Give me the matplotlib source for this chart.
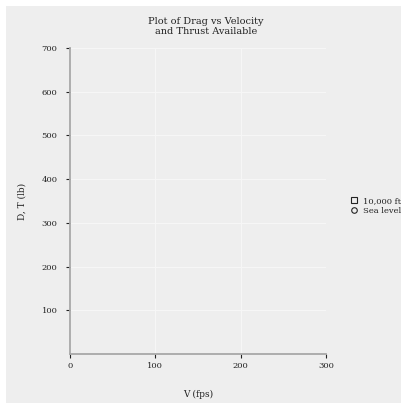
import matplotlib.pyplot as plt
from matplotlib.patches import Rectangle
from matplotlib.lines import Line2D

# series (no points are shown in the chart)
series_names = ["10,000 ft", "Sea level"]
series_markers = ["s", "o"]
velocity_10k = []
drag_10k = []
velocity_sl = []
drag_sl = []

x_ticks = [0, 100, 200, 300]
y_ticks = [100, 200, 300, 400, 500, 600, 700]

plt.rcParams['font.family'] = ['DejaVu Serif']
text_col = '#222222'
bg = '#eeeeee'

fig = plt.figure(figsize=(4.01, 4.03), dpi=100, facecolor='white')
fig.patches.append(Rectangle((6 / 401, 0), 1, 1 - 6 / 403, transform=fig.transFigure,
                             facecolor=bg, edgecolor='none', zorder=-10))

ax = fig.add_axes([70 / 401, 1 - 354 / 403, 256 / 401, 306 / 403])
ax.set_facecolor(bg)

ax.plot(velocity_10k, drag_10k, linestyle='none', marker=series_markers[0],
        mfc='none', mec=text_col, label=series_names[0])
ax.plot(velocity_sl, drag_sl, linestyle='none', marker=series_markers[1],
        mfc='none', mec=text_col, label=series_names[1])

ax.set_xlim(0, 300)
ax.set_ylim(0, 700)
ax.set_xticks(x_ticks)
ax.set_yticks(y_ticks)
ax.grid(True, color='#f6f6f6', linewidth=0.8)
ax.set_axisbelow(True)

for side in ['top', 'right']:
    ax.spines[side].set_visible(False)
for side in ['left', 'bottom']:
    ax.spines[side].set_color('#a8a8a8')
    ax.spines[side].set_linewidth(1.3)

ax.tick_params(axis='both', colors=text_col, labelsize=6, length=3, width=0.8)
ax.tick_params(axis='x', pad=3)
ax.tick_params(axis='y', pad=6)

ax.set_xlabel('V (fps)', fontsize=6.5, color=text_col, labelpad=14)
ax.set_ylabel('D, T (lb)', fontsize=6.5, color=text_col, labelpad=11)
fig.text(206 / 401, 1 - 21 / 403, 'Plot of Drag vs Velocity', fontsize=7,
         color=text_col, ha='center', va='center')
fig.text(206 / 401, 1 - 32 / 403, 'and Thrust Available', fontsize=7,
         color=text_col, ha='center', va='center')

handles = [Line2D([], [], linestyle='none', marker=m, mfc='none', mec=text_col,
                  markersize=4, markeredgewidth=0.8) for m in series_markers]
fig.legend(handles, series_names, loc='center left',
           bbox_to_anchor=(342 / 401, 1 - 206 / 403), frameon=False,
           fontsize=6, labelcolor=text_col, handlelength=1, handletextpad=0.6,
           labelspacing=0.2)

fig.savefig('out.png', dpi=100, facecolor=fig.get_facecolor())
